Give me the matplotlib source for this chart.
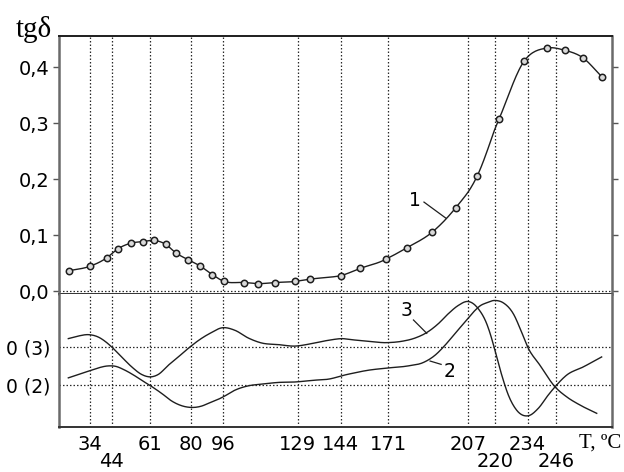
import numpy as np
import matplotlib
matplotlib.use("Agg")
import matplotlib.pyplot as plt

# ---------------- data ----------------
# temperatures of the marked vertical lines (tick labels)
tick_temps = [34, 44, 61, 80, 96, 129, 144, 171, 207, 220, 234, 246]
tick_labels = ["34", "44", "61", "80", "96", "129", "144", "171", "207", "220", "234", "246"]
t_range = [19.7, 269.8]

# curve 1: tg delta (with markers)
t1 = [24.3, 34.0, 41.7, 46.7, 52.4, 57.8, 63.0, 68.3, 72.9, 78.5, 84.3, 90.6, 96.3,
      105.3, 111.3, 119.1, 127.9, 133.3, 144.0, 154.9, 169.9, 179.4, 190.9, 201.4,
      211.5, 221.8, 232.4, 242.2, 249.7, 257.3, 265.4]
tg1 = [0.037, 0.045, 0.060, 0.076, 0.086, 0.089, 0.091, 0.084, 0.069, 0.057, 0.046,
       0.030, 0.018, 0.016, 0.014, 0.016, 0.018, 0.022, 0.028, 0.041, 0.058, 0.078,
       0.106, 0.149, 0.206, 0.307, 0.410, 0.434, 0.430, 0.417, 0.383]

# curve 2 (relative to its own zero "0 (2)", arbitrary units)
t2 = [24.0, 28.6, 33.2, 37.8, 42.4, 45.5, 49.9, 54.3, 58.8, 61.0, 66.4, 71.1, 75.7,
      79.5, 85.3, 88.6, 96.0, 101.2, 107.1, 113.0, 120.4, 128.6, 135.0, 139.7, 144.6,
      150.2, 159.7, 171.0, 180.0, 186.8, 192.1, 196.6, 201.1, 205.6, 210.4, 212.8,
      216.1, 220.1, 223.6, 227.9, 231.4, 234.0, 239.2, 245.6, 250.5, 256.2, 263.3]
v2 = [0.197, 0.285, 0.370, 0.456, 0.508, 0.500, 0.396, 0.249, 0.078, 0.0, -0.207,
      -0.407, -0.528, -0.570, -0.536, -0.466, -0.295, -0.122, -0.010, 0.034, 0.078,
      0.093, 0.137, 0.163, 0.249, 0.311, 0.396, 0.456, 0.508, 0.596, 0.785, 1.044,
      1.347, 1.648, 1.951, 2.067, 2.150, 2.210, 2.150, 1.865, 1.389, 1.0, 0.526,
      -0.036, -0.295, -0.510, -0.725]

# curve 3 (relative to its own zero "0 (3)", same units)
t3 = [24.0, 28.6, 33.2, 37.8, 41.7, 44.0, 48.4, 52.9, 57.3, 61.0, 64.8, 69.5, 74.1,
      79.5, 84.5, 89.4, 96.0, 101.2, 107.1, 113.0, 120.4, 128.6, 133.9, 139.7, 144.6,
      148.3, 159.7, 171.0, 177.1, 183.1, 188.3, 193.6, 198.1, 202.6, 206.9, 212.0,
      216.1, 220.1, 223.0, 225.8, 229.3, 234.3, 238.5, 242.7, 245.6, 250.5, 257.6, 265.4]
v3 = [0.218, 0.285, 0.321, 0.259, 0.114, 0.0, -0.259, -0.518, -0.715, -0.777, -0.715,
      -0.474, -0.259, 0.0, 0.199, 0.355, 0.503, 0.433, 0.233, 0.104, 0.062, 0.026,
      0.088, 0.174, 0.218, 0.199, 0.148, 0.114, 0.148, 0.233, 0.373, 0.606, 0.865,
      1.080, 1.184, 0.995, 0.606, -0.085, -0.733, -1.251, -1.642, -1.788, -1.596,
      -1.251, -1.036, -0.733, -0.518, -0.259]

top_ticks = [0.0, 0.1, 0.2, 0.3, 0.4]
top_tick_labels = ["0,0", "0,1", "0,2", "0,3", "0,4"]
zero_levels = [0.0, 1.0]             # baselines of curve 2 and curve 3
zero_labels = ["0 (2)", "0 (3)"]

# ---------------- layout / style ----------------
# the original temperature axis is hand-drawn and not quite uniform:
# axis fraction at which each marked temperature sits
tick_frac = [0.0561, 0.0953, 0.1646, 0.2387, 0.2971, 0.4316, 0.5094, 0.5955,
             0.7396, 0.7879, 0.8475, 0.8987]
lower_row = {"44", "220", "246"}
INK = "#1e1e1e"
GRID = dict(color="#2a2a2a", lw=0.9, ls=(0, (1.2, 1.6)))
plt.rcParams["font.family"] = ["DejaVu Sans"]
plt.rcParams["font.size"] = 13.5

knot_t = np.array([t_range[0]] + tick_temps + [t_range[1]], float)
knot_f = np.array([0.0] + tick_frac + [1.0], float)


def fwd(t):
    return np.interp(t, knot_t, knot_f)


def inv(f):
    return np.interp(f, knot_f, knot_t)


def smooth(t, v, n=16):
    t = np.asarray(t, float)
    v = np.asarray(v, float)
    m = np.gradient(v, t)
    xs, ys = [], []
    s = np.linspace(0, 1, n, endpoint=False)
    h00 = 2 * s**3 - 3 * s**2 + 1
    h10 = s**3 - 2 * s**2 + s
    h01 = -2 * s**3 + 3 * s**2
    h11 = s**3 - s**2
    for i in range(len(t) - 1):
        h = t[i + 1] - t[i]
        xs.append(t[i] + s * h)
        ys.append(h00 * v[i] + h10 * h * m[i] + h01 * v[i + 1] + h11 * h * m[i + 1])
    xs.append([t[-1]])
    ys.append([v[-1]])
    return np.concatenate(xs), np.concatenate(ys)


fig = plt.figure(figsize=(6.24, 4.72), dpi=100)
L, W = 59 / 624, 553 / 624
ax1 = fig.add_axes([L, (472 - 293.5) / 472, W, 257.5 / 472])
ax2 = fig.add_axes([L, (472 - 426.7) / 472, W, 133.2 / 472])

for ax in (ax1, ax2):
    ax.set_xscale("function", functions=(fwd, inv))
    ax.set_xlim(*t_range)
    for t in tick_temps:
        ax.axvline(t, zorder=1, **GRID)
    for side in ("left", "right"):
        ax.spines[side].set_color("#6a6a6a")
        ax.spines[side].set_linewidth(1.8)

# top panel
ax1.set_ylim(-0.0036, 0.4554)
ax1.axhline(0.0, zorder=1, **GRID)
xs, ys = smooth(t1, tg1)
ax1.plot(xs, ys, color=INK, lw=1.0, zorder=3)
ax1.plot(t1, tg1, ls="none", marker="o", ms=4.6, mfc="#d9d9d9", mec=INK, mew=1.1, zorder=4)
ax1.set_yticks(top_ticks, top_tick_labels)
ax1.tick_params(axis="y", which="both", direction="out", length=4, width=1,
                color="#555555", right=True, labelright=False, pad=3, labelsize=14)
ax1.set_xticks(tick_temps, [""] * len(tick_temps))
ax1.xaxis.set_minor_locator(matplotlib.ticker.NullLocator())
ax1.tick_params(axis="x", which="both", bottom=False, labelbottom=False)
ax1.spines["top"].set_color(INK)
ax1.spines["top"].set_linewidth(1.4)
ax1.spines["bottom"].set_color("#333333")
ax1.spines["bottom"].set_linewidth(1.4)

# bottom panel
ax2.set_ylim(-1.073, 2.391)
for z in zero_levels:
    ax2.axhline(z, zorder=1, **GRID)
xs, ys = smooth(t2, v2)
ax2.plot(xs, ys + zero_levels[0], color=INK, lw=1.0, zorder=3)
xs, ys = smooth(t3, v3)
ax2.plot(xs, ys + zero_levels[1], color=INK, lw=1.0, zorder=3)
ax2.set_yticks(zero_levels, zero_labels)
ax2.tick_params(axis="y", length=0, pad=6)
ax2.spines["top"].set_visible(False)
ax2.spines["bottom"].set_color("#333333")
ax2.spines["bottom"].set_linewidth(1.4)
ax2.set_xticks(tick_temps, ["" if s in lower_row else s for s in tick_labels])
ax2.xaxis.set_minor_locator(matplotlib.ticker.NullLocator())
ax2.tick_params(axis="x", which="both", length=0, pad=6, labelsize=14)
xtrans = ax2.get_xaxis_transform()
for t, s in zip(tick_temps, tick_labels):
    if s in lower_row:
        ax2.text(t, -0.262, s, transform=xtrans, ha="center", va="center", fontsize=14)

# curve labels with leader lines
ax1.text(0.644, 0.363, "1", transform=ax1.transAxes, ha="center", va="center")
ax1.plot([0.660, 0.700], [0.355, 0.292], transform=ax1.transAxes, color=INK, lw=0.9)
ax2.text(0.629, 0.869, "3", transform=ax2.transAxes, ha="center", va="center")
ax2.plot([0.641, 0.665], [0.801, 0.701], transform=ax2.transAxes, color=INK, lw=0.9)
ax2.text(0.707, 0.415, "2", transform=ax2.transAxes, ha="center", va="center")
ax2.plot([0.671, 0.691], [0.493, 0.468], transform=ax2.transAxes, color=INK, lw=0.9)

# axis titles
fig.text(33.5 / 624, (472 - 37) / 472, "tgδ", family="Liberation Serif", fontsize=21,
         ha="center", va="baseline")
fig.text(600 / 624, (472 - 443) / 472, "T, ºC", family="Liberation Serif", fontsize=15,
         ha="center", va="center")

fig.savefig("out.png", dpi=100)
